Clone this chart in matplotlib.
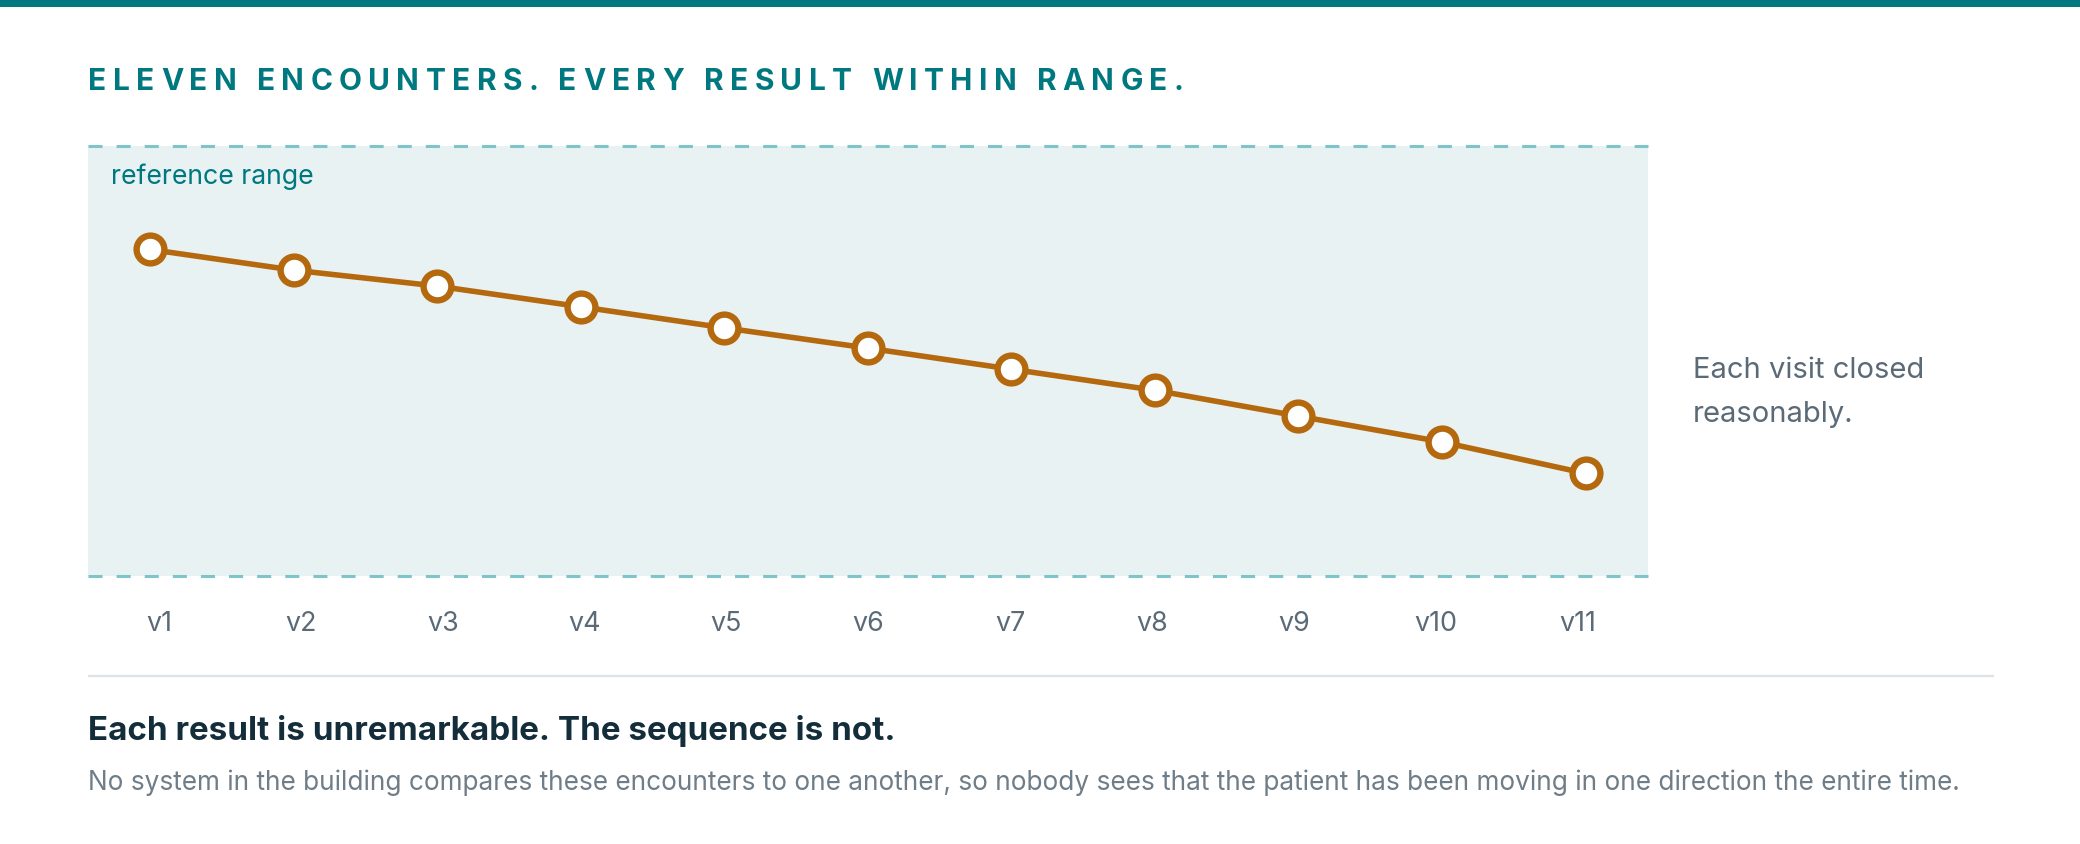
import matplotlib
matplotlib.use("Agg")
import matplotlib.pyplot as plt
from matplotlib.lines import Line2D
from matplotlib.patches import Rectangle

W, H = 2080, 845

visits = ["v1", "v2", "v3", "v4", "v5", "v6", "v7", "v8", "v9", "v10", "v11"]
# where each result sits inside the reference range (0 = low limit, 100 = high limit)
values = [75.9, 71.1, 67.4, 62.6, 57.7, 53.0, 48.1, 43.2, 37.2, 31.2, 23.9]
ref_low, ref_high = 0.0, 100.0

title = "ELEVEN ENCOUNTERS. EVERY RESULT WITHIN RANGE."
band_label = "reference range"
side_note = ["Each visit closed", "reasonably."]
headline = "Each result is unremarkable. The sequence is not."
subline = ("No system in the building compares these encounters to one another, "
           "so nobody sees that the patient has been moving in one direction the entire time.")

TEAL = "#00787f"
BAND = "#e8f2f3"
DASH = "#7fc3cb"
LINE = "#b4690f"
GRAY = "#5b6a77"
DARK = "#142d3a"
LIGHT = "#6f7d88"
RULE = "#dde3e7"

plt.rcParams["font.family"] = ["Inter", "DejaVu Sans"]

fig = plt.figure(figsize=(W / 100, H / 100), dpi=100)
renderer = fig.canvas.get_renderer()


def fx(x):
    return x / W


def fy(y):
    return 1 - y / H


def text_width(s, size, **kw):
    t = fig.text(0, 0, s, fontsize=size, **kw)
    w = t.get_window_extent(renderer).width
    t.remove()
    return w


def fitted_size(s, width_px, base=20.0, **kw):
    return base * width_px / text_width(s, base, **kw)


def spaced_text(x0, x1, y, s, size, **kw):
    # no letter-spacing in matplotlib, so lay the glyphs out one by one
    ref = text_width("I", size, **kw)
    offsets = [0.0] + [text_width(s[:i] + "I", size, **kw) - ref
                       for i in range(1, len(s))]
    gap = (x1 - x0 - text_width(s, size, **kw)) / (len(s) - 1)
    for i, ch in enumerate(s):
        if ch == " ":
            continue
        fig.text(fx(x0 + offsets[i] + i * gap), fy(y), ch, fontsize=size,
                 va="baseline", **kw)


# top bar and divider
fig.patches.append(Rectangle((0, fy(8)), 1, 8 / H, transform=fig.transFigure,
                             color=TEAL, lw=0))
fig.lines.append(Line2D([fx(88.5), fx(1993)], [fy(676.7), fy(676.7)],
                        transform=fig.transFigure, color=RULE, lw=1.6))

spaced_text(88.5, 1184, 90, title, 21.5, color=TEAL, fontweight="bold")

# chart
ax = fig.add_axes([fx(88.3), fy(577.3), (1648.3 - 88.3) / W, (577.3 - 146.7) / H])
ax.set_facecolor("none")
xs = list(range(len(visits)))
x_min, x_max = -0.43, 10.437

ax.axhspan(ref_low, ref_high, color=BAND, lw=0, zorder=0)
for y in (ref_low, ref_high):
    ax.axhline(y, color=DASH, lw=2.2, dashes=(4.6, 4.6), clip_on=False, zorder=1)

ax.plot(xs, values, color=LINE, lw=4.0, marker="o", ms=20, mfc="white",
        mec=LINE, mew=4.6, zorder=3, clip_on=False)

ax.set_xlim(x_min, x_max)
ax.set_ylim(ref_low, ref_high)
# labels sit in equal columns across the band, not exactly under the points
n = len(visits)
label_pos = [x_min + (i + 0.5) / n * (x_max - x_min) for i in range(n)]
ax.set_xticks(label_pos)
ax.set_xticklabels(visits)
ax.tick_params(axis="x", length=0, pad=24, labelsize=19.3, labelcolor=GRAY)
ax.set_yticks([])
for spine in ax.spines.values():
    spine.set_visible(False)

ax.text(0.0144, 0.9134, band_label, transform=ax.transAxes, va="baseline",
        color=TEAL, fontsize=fitted_size(band_label, 203))

# side note
note_size = fitted_size(side_note[0], 231)
for line, base in zip(side_note, [378.3, 421.7]):
    fig.text(fx(1693), fy(base), line, fontsize=note_size, color=GRAY,
             va="baseline")

# takeaway
fig.text(fx(88.5), fy(740), headline, va="baseline", color=DARK,
         fontweight="bold",
         fontsize=fitted_size(headline, 808, fontweight="bold"))
fig.text(fx(88.5), fy(790), subline, va="baseline", color=LIGHT,
         fontsize=fitted_size(subline, 1869))

fig.savefig("out.png", dpi=100, facecolor="white")
